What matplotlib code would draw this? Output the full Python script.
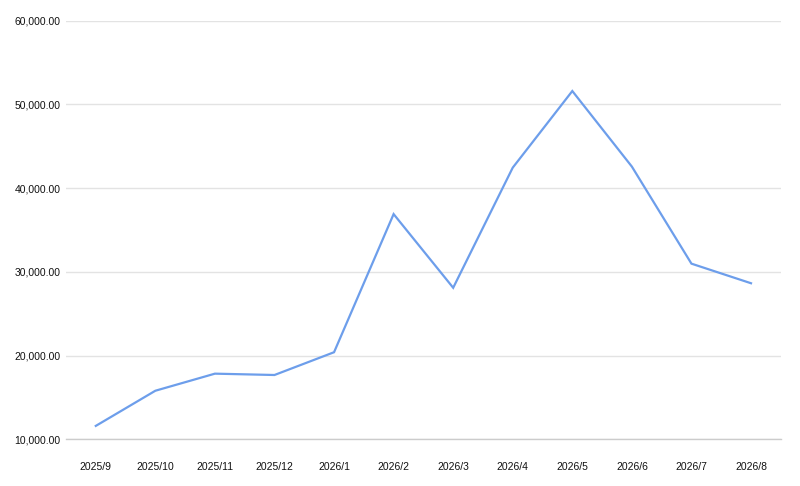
import matplotlib
matplotlib.use("Agg")
import matplotlib.pyplot as plt
from matplotlib.ticker import FuncFormatter, MultipleLocator

months = ["2025/9", "2025/10", "2025/11", "2025/12", "2026/1", "2026/2",
          "2026/3", "2026/4", "2026/5", "2026/6", "2026/7", "2026/8"]
values = [11600, 15800, 17840, 17680, 20400, 36900,
          28100, 42450, 51600, 42570, 30980, 28640]

plt.rcParams['font.family'] = ['Liberation Sans', 'DejaVu Sans']

fig = plt.figure(figsize=(8, 4.86), dpi=100)
ax = fig.add_axes([0.0825, 0.0961, 0.8935, 0.8613])

x = list(range(len(months)))
ax.plot(x, values, color="#6d9eeb", linewidth=1.6, solid_joinstyle="miter")

ax.set_xlim(-0.5, len(months) - 0.5)
ax.set_ylim(10000, 60000)
ax.yaxis.set_major_locator(MultipleLocator(10000))
ax.yaxis.set_major_formatter(FuncFormatter(lambda v, p: f"{v:,.2f}"))
ax.set_xticks(x)
ax.set_xticklabels(months)

ax.grid(axis="y", color="#e3e3e3", linewidth=1)
ax.set_axisbelow(True)
for s in ["top", "right", "left"]:
    ax.spines[s].set_visible(False)
ax.spines["bottom"].set_color("#cccccc")
ax.spines["bottom"].set_linewidth(1)

ax.tick_params(axis="both", length=0, labelsize=7.5, labelcolor="#111111")
ax.tick_params(axis="x", pad=16)
ax.tick_params(axis="y", pad=4)

fig.savefig("out.png", dpi=100, facecolor="white")
